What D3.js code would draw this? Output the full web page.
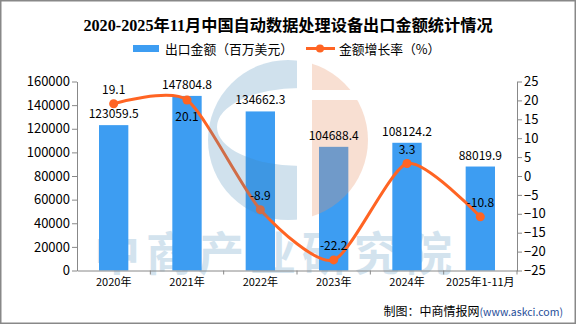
<!DOCTYPE html>
<html><head><meta charset="utf-8">
<script src="https://cdn.jsdelivr.net/npm/d3@7"></script>
<style>body{margin:0;background:#fff}svg{display:block}</style>
</head><body>
<script>
const categories = ["2020年","2021年","2022年","2023年","2024年","2025年1-11月"];
const exportValues = [123059.5,147804.8,134662.3,104688.4,108124.2,88019.9];
const growthRates = [19.1,20.1,-8.9,-22.2,3.3,-10.8];
const leftTicks = [0,20000,40000,60000,80000,100000,120000,140000,160000];
const rightTicks = [-25,-20,-15,-10,-5,0,5,10,15,20,25];
const growthLabelPos = ["above","below","above","above","above","above"];

const W=576,H=324;
const svg=d3.select("body").append("svg").attr("width",W).attr("height",H);
svg.append("rect").attr("x",0.75).attr("y",0.75).attr("width",W-1.5).attr("height",H-1.5).attr("fill","#fff").attr("stroke","#888").attr("stroke-width",1.5);

const L=77,R=517,T=81.5,B=270.5;
const x=d3.scaleBand().domain(categories).range([L,R]).paddingInner(0.6).paddingOuter(0.3);
const xb=d3.scaleBand().domain(categories).range([L,R]).padding(0);
const yL=d3.scaleLinear().domain([0,160000]).range([B,T]);
const yR=d3.scaleLinear().domain([-25,25]).range([B,T]);
const font="SimSun,'Noto Sans CJK SC','DejaVu Sans',sans-serif";

// watermark text (behind bars)
svg.append("text").attr("x",276).attr("y",270).attr("text-anchor","middle").attr("font-family","'Noto Sans CJK SC',sans-serif").attr("font-size",46).attr("font-weight","bold").attr("letter-spacing",6).attr("fill","#d3e3ee").text("中商产业研究院");

// bars
svg.append("g").selectAll("rect").data(categories).join("rect")
 .attr("x",d=>x(d)).attr("width",x.bandwidth())
 .attr("y",(d,i)=>yL(exportValues[i])).attr("height",(d,i)=>B-yL(exportValues[i]))
 .attr("fill","#3d9df2");

// axes
const axisColor="#888";
const gL=svg.append("g").attr("transform",`translate(${L},0)`).call(d3.axisLeft(yL).tickValues(leftTicks).tickSize(5).tickSizeOuter(0).tickFormat(d3.format("d")));
const gR=svg.append("g").attr("transform",`translate(${R},0)`).call(d3.axisRight(yR).tickValues(rightTicks).tickSize(5).tickSizeOuter(0));
const gB=svg.append("g").attr("transform",`translate(0,${B})`).call(d3.axisBottom(xb).tickSize(0).tickSizeOuter(0));
[gL,gR,gB].forEach(g=>{g.selectAll("path,line").attr("stroke",axisColor);g.selectAll("text").attr("fill","#000").attr("font-family",font);});
gL.selectAll("text").attr("font-size",13).attr("x",-7);
gR.selectAll("text").attr("font-size",13).attr("x",7);
gB.selectAll("text").attr("font-size",11).attr("dy","1.15em");
svg.append("g").selectAll("line").data(categories.slice(1)).join("line")
 .attr("x1",d=>xb(d)).attr("x2",d=>xb(d)).attr("y1",B).attr("y2",B+4).attr("stroke",axisColor);
svg.append("line").attr("x1",R).attr("x2",R).attr("y1",B).attr("y2",B+4).attr("stroke",axisColor);

// line
const cx=d=>x(d)+x.bandwidth()/2;
const line=d3.line().x(d=>cx(d)).y((d,i)=>yR(growthRates[i])).curve(d3.curveCardinal.tension(0.3));
svg.append("path").datum(categories).attr("d",line).attr("fill","none").attr("stroke","#ff6423").attr("stroke-width",3);
svg.append("g").selectAll("circle").data(categories).join("circle")
 .attr("cx",cx).attr("cy",(d,i)=>yR(growthRates[i])).attr("r",4.5).attr("fill","#ff6423");

// watermark logo (on top, translucent)
const defs=svg.append("defs");
const lcx=288,lcy=140,lr=80;
defs.append("clipPath").attr("id","cl").append("circle").attr("cx",lcx).attr("cy",lcy).attr("r",lr);
const logo=svg.append("g").attr("clip-path","url(#cl)");
const mask=defs.append("mask").attr("id","cmask");
mask.append("rect").attr("x",0).attr("y",0).attr("width",W).attr("height",H).attr("fill","#fff");
mask.append("ellipse").attr("cx",300).attr("cy",127).attr("rx",83).attr("ry",39).attr("fill","#000");
logo.append("rect").attr("x",lcx-lr).attr("y",lcy-lr).attr("width",297-(lcx-lr)).attr("height",2*lr)
 .attr("fill","#4389b8").attr("opacity",0.25).attr("mask","url(#cmask)");
logo.append("rect").attr("x",312).attr("y",lcy-lr).attr("width",lr).attr("height",90-(lcy-lr))
 .attr("fill","#e8956b").attr("opacity",0.3);
logo.append("rect").attr("x",312).attr("y",100).attr("width",lr).attr("height",lcy+lr-100)
 .attr("fill","#e8956b").attr("opacity",0.3);

// bar labels
svg.append("g").selectAll("text").data(categories).join("text")
 .attr("x",d=>x(d)+x.bandwidth()/2).attr("y",(d,i)=>yL(exportValues[i])-7)
 .attr("text-anchor","middle").attr("font-family",font).attr("font-size",12).attr("fill","#000")
 .text((d,i)=>exportValues[i].toFixed(1));
// line labels
svg.append("g").selectAll("text").data(categories).join("text")
 .attr("x",cx).attr("y",(d,i)=>yR(growthRates[i])+(growthLabelPos[i]==="above"?-10:21))
 .attr("text-anchor","middle").attr("font-family",font).attr("font-size",12).attr("fill","#000")
 .text((d,i)=>growthRates[i]);

// title
svg.append("text").attr("x",288).attr("y",31).attr("text-anchor","middle")
 .attr("font-family","'Liberation Serif','Noto Sans CJK SC',serif").attr("font-weight","bold").attr("font-size",16.2).attr("fill","#000")
 .text("2020-2025年11月中国自动数据处理设备出口金额统计情况");

// legend
svg.append("rect").attr("x",133).attr("y",45).attr("width",26).attr("height",7).attr("fill","#3d9df2");
svg.append("text").attr("x",165).attr("y",53.5).attr("font-family",font).attr("font-size",12.8).text("出口金额（百万美元）");
svg.append("line").attr("x1",306).attr("x2",335).attr("y1",48.5).attr("y2",48.5).attr("stroke","#ff6423").attr("stroke-width",3);
svg.append("circle").attr("cx",320).attr("cy",48.5).attr("r",4).attr("fill","#ff6423");
svg.append("text").attr("x",339).attr("y",53.5).attr("font-family",font).attr("font-size",12.8).text("金额增长率（%）");

// source
const src=svg.append("text").attr("x",563).attr("y",316).attr("text-anchor","end").attr("font-family","'Noto Sans CJK SC',sans-serif").attr("font-size",12);
src.append("tspan").attr("fill","#000").text("制图：中商情报网");
src.append("tspan").attr("fill","#1f4e99").attr("font-size",10.5).text("(www.askci.com)");
</script>
</body></html>
